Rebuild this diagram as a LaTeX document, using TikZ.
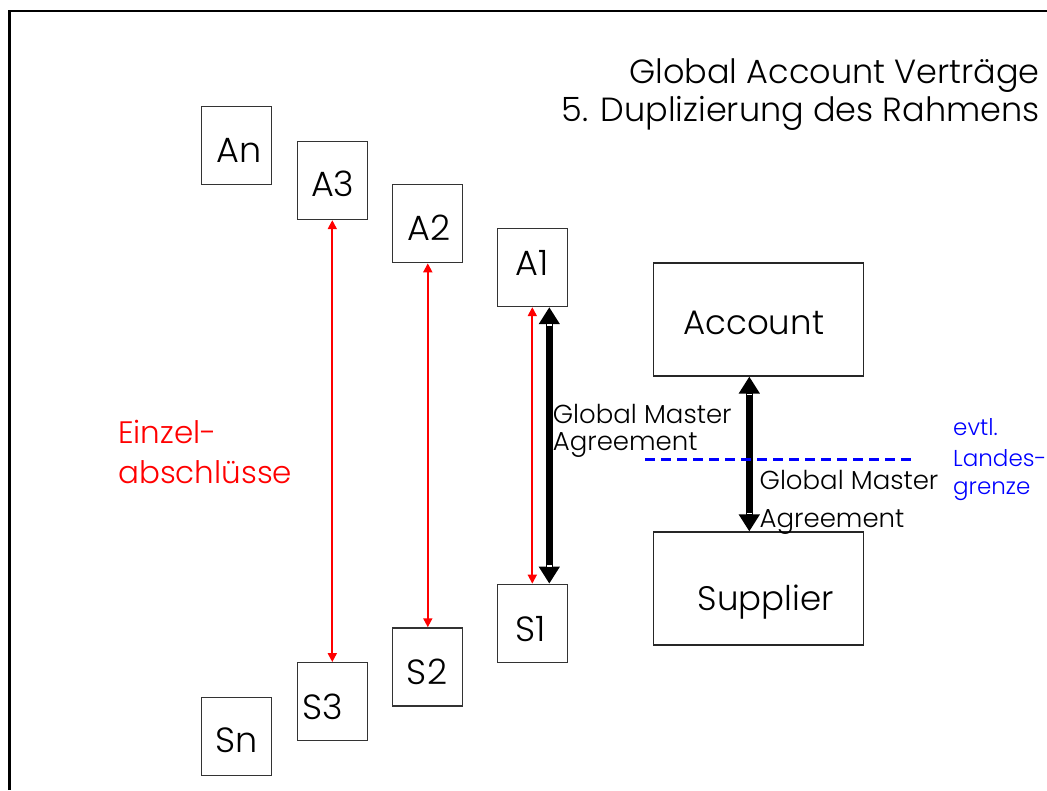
\documentclass[tikz,border=0pt]{standalone}
\usepackage{fontspec}
\setmainfont{Poppins Light}

\usetikzlibrary{arrows.meta}

\begin{document}
\begin{tikzpicture}[x=1pt,y=-1pt,
  box/.style={draw=black!80,line width=1.3pt,inner sep=0pt,minimum width=70pt,minimum height=78pt},
  bigbox/.style={draw=black!85,line width=1.3pt,inner sep=0pt,minimum width=210pt,minimum height=113pt},
  txt/.style={inner sep=0pt,anchor=base},
  boxfont/.style={font=\fontsize{35}{40}\selectfont},
  mainfont/.style={font=\fontsize{34}{40}\selectfont},
  titlefont/.style={font=\fontsize{33.5}{38}\selectfont},
  redfont/.style={font=\fontsize{31}{38}\selectfont,text=red},
  gmafont/.style={font=\fontsize{26}{30}\selectfont},
  bluefont/.style={font=\fontsize{23}{29}\selectfont,text=blue},
  single/.style={red,line width=1.8pt,{Triangle[width=9pt,length=9pt]}-{Triangle[width=9pt,length=9pt]}},
  master/.style={black,line width=7pt,{Triangle[width=20pt,length=17pt]}-{Triangle[width=20pt,length=17pt]}},
  notch/.style={white,line width=1.8pt},
  border/.style={blue,line width=3pt,dash pattern=on 10pt off 6pt},
]
\useasboundingbox (0,0) rectangle (1047,790);
\fill[white] (0,0) rectangle (1047,790);

% slide frame
\draw[line width=2.6pt] (9.5,790) -- (9.5,11) -- (1047,11);

% title
\node[txt,anchor=base east,titlefont] (t1) at (1040,83.3) {Global Account Verträge};
\node[txt,anchor=base east,titlefont] (t2) at (1040,121) {5. Duplizierung des Rahmens};

% account side boxes
\node[box] (An) at (236.7,145.5) {};
\node[box] (A3) at (332.3,180.5) {};
\node[box] (A2) at (427.8,223.7) {};
\node[box] (A1) at (532.3,267.5) {};
% supplier side boxes
\node[box] (S1) at (532.3,623.3) {};
\node[box] (S2) at (427.8,666.9) {};
\node[box] (S3) at (332.3,701.7) {};
\node[box] (Sn) at (236.3,736.7) {};
% global boxes
\node[bigbox] (Acc) at (758.3,319.4) {};
\node[bigbox] (Sup) at (758.3,588.6) {};

% box captions
\node[txt,boxfont] (tAn) at (239,162.3) {An};
\node[txt,boxfont] (tA3) at (332.8,196.7) {A3};
\node[txt,boxfont] (tA2) at (428.7,240.7) {A2};
\node[txt,boxfont] (tA1) at (532.5,275) {A1};
\node[txt,boxfont] (tS1) at (530.3,641) {S1};
\node[txt,boxfont] (tS2) at (427,684) {S2};
\node[txt,boxfont] (tS3) at (323,719) {S3};
\node[txt,boxfont] (tSn) at (237,752.7) {Sn};
\node[txt,mainfont] (tAcc) at (753.7,334.3) {Account};
\node[txt,mainfont] (tSup) at (765.8,610) {Supplier};

% single contracts
\draw[single] (A3.south) -- (S3.north);
\draw[single] (A2.south) -- (S2.north);
\draw[single] (A1.south) -- (S1.north);

% global master agreements
\draw[master] ([xshift=17pt]A1.south) -- ([xshift=17pt]S1.north);
\draw[notch] ([xshift=14.5pt,yshift=-18pt]A1.south) -- ++(5,0);
\draw[notch] ([xshift=14.5pt,yshift=18pt]S1.north) -- ++(5,0);
\draw[master] ([xshift=-9pt]Acc.south) -- ([xshift=-9pt]Sup.north);
\draw[notch] ([xshift=-11.5pt,yshift=-18pt]Acc.south) -- ++(5,0);
\draw[notch] ([xshift=-11.5pt,yshift=18pt]Sup.north) -- ++(5,0);

% labels
\node[txt,anchor=base west,redfont] (e1) at (118,443.3) {Einzel-};
\node[txt,anchor=base west,redfont] (e2) at (118,483.3) {abschlüsse};
\node[txt,anchor=base west,gmafont] (g1) at (552.7,423.3) {Global Master};
\node[txt,anchor=base west,gmafont] (g2) at (552.7,450) {Agreement};

% national border
\coordinate (bl) at (645,459);
\coordinate (br) at (917,459);
\draw[border] (bl) -- (br);

\node[txt,anchor=base west,gmafont] (g3) at (759.5,489) {Global Master};
\node[txt,anchor=base west,gmafont] (g4) at (759.5,527) {Agreement};

\node[txt,anchor=base west,bluefont] (b1) at (953,435) {evtl.};
\node[txt,anchor=base west,bluefont] (b2) at (953,466) {Landes-};
\node[txt,anchor=base west,bluefont] (b3) at (953,494) {grenze};
\end{tikzpicture}
\end{document}
